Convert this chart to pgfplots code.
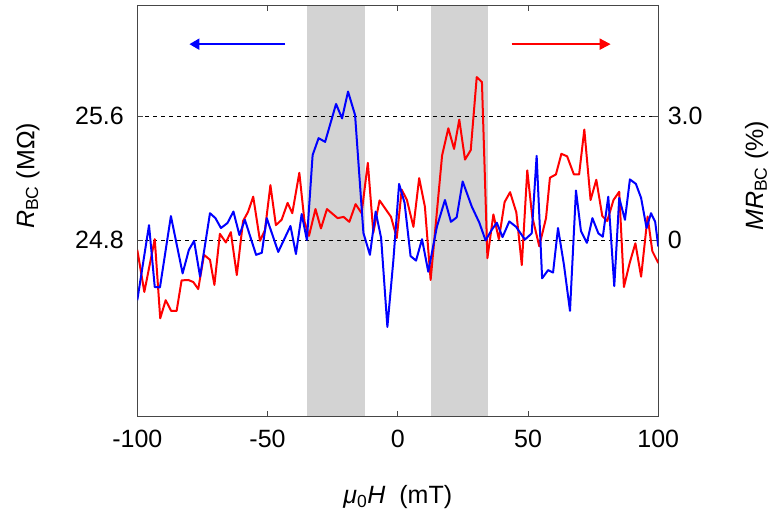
\documentclass[border=0pt]{standalone}
\usepackage{pgfplots}
\pgfplotsset{compat=1.18}
\usepackage{fontspec}
\setmainfont{Liberation Sans}
\usetikzlibrary{arrows.meta}
\definecolor{band}{RGB}{211,211,211}
\definecolor{axgray}{RGB}{70,70,70}
\begin{document}
\begin{tikzpicture}
\path[use as bounding box] (-137.3pt,-94.3pt) rectangle (634.7pt,416.7pt);
\begin{axis}[at={(0,0)}, anchor=south west, scale only axis,
  width=521pt, height=411.7pt,
  xmin=-100, xmax=100, ymin=23.657, ymax=26.320,
  xtick={-100,-50,0,50,100}, xticklabels={-100,-50,0,50,100},
  ytick={24.8,25.6}, yticklabels={24.8,25.6},
  tick align=inside, major tick length=6pt,
  xtick pos=both, ytick pos=left,
  axis line style={axgray, line width=0.9pt},
  major tick style={axgray, line width=0.9pt},
  font=\fontsize{25}{30}\selectfont,
  xticklabel style={yshift=-10pt},
  yticklabel style={xshift=-10pt},
  axis on top, clip=false,
]
\fill[band] (axis cs:-35,23.657) rectangle (axis cs:-12.6,26.32);
\fill[band] (axis cs:12.6,23.657) rectangle (axis cs:34.6,26.32);
\draw[black, line width=0.9pt, dash pattern=on 4pt off 4pt] (axis cs:-100,24.8) -- (axis cs:99,24.8);
\draw[black, line width=0.9pt, dash pattern=on 4pt off 4pt] (axis cs:-100,25.6) -- (axis cs:99,25.6);
\node[rotate=90, font=\fontsize{25}{30}\selectfont] at (axis description cs:-0.21,0.585)
  {\textit{R}\textsubscript{BC} (MΩ)};
\node[rotate=90, font=\fontsize{25}{30}\selectfont] at (axis description cs:1.189,0.585)
  {\textit{MR}\textsubscript{BC} (\%)};
\node[font=\fontsize{25}{30}\selectfont, anchor=base, inner sep=0pt] at (axis description cs:0.5,-0.212)
  {\textit{μ}\textsubscript{0}\textit{H}\ \ (mT)};
\end{axis}
\begin{axis}[at={(0,0)}, anchor=south west, scale only axis,
  width=521pt, height=411.7pt,
  xmin=-100, xmax=100, ymin=-4.286, ymax=5.700,
  axis x line=none, axis y line*=right,
  ytick={0,3}, yticklabels={0,3.0},
  tick align=inside, major tick length=6pt,
  axis line style={axgray, line width=0.9pt},
  major tick style={axgray, line width=0.9pt},
  font=\fontsize{25}{30}\selectfont,
  yticklabel style={xshift=6pt},
]
\addplot[red, line width=2pt, line join=round] coordinates {
(-100,-0.24) (-97.3,-1.26) (-93.3,0.02) (-91.2,-1.90) (-89.1,-1.46) (-87.0,-1.72)
(-84.9,-1.72) (-83.0,-0.98) (-80.4,-0.97) (-78.5,-1.02) (-76.6,-1.19) (-74.4,-0.36)
(-72.1,-0.48) (-70.4,-1.09) (-68.3,0.15) (-66.0,-0.06) (-64.1,0.19) (-61.8,-0.85)
(-59.4,0.46) (-57.5,0.68) (-55.5,1.05) (-52.9,-0.02) (-51.0,0.24) (-48.9,1.33)
(-46.8,0.36) (-44.6,0.49) (-42.3,0.90) (-40.5,0.65) (-37.8,1.63) (-35.8,0.44)
(-34.1,0.10) (-31.6,0.75) (-29.5,0.28) (-27.2,0.75) (-23.1,0.53) (-20.8,0.56)
(-18.6,0.44) (-16.2,0.87) (-13.9,0.65) (-11.5,1.87) (-9.4,0.18) (-7.0,0.96)
(-2.6,0.56) (-0.4,0.05) (1.5,1.22) (3.5,0.97) (6.0,0.32) (8.2,1.50) (10.4,0.81)
(12.6,-0.97) (17.0,2.05) (19.4,2.71) (21.6,2.21) (23.6,2.92) (25.8,1.95) (28.0,2.18)
(30.3,3.95) (32.3,3.83) (34.4,-0.44) (36.7,0.62) (38.8,0.02) (41.0,0.92) (43.1,1.16)
(45.5,0.67) (47.6,-0.61) (49.7,1.69) (51.6,0.57) (54.3,-0.15) (56.9,0.53) (58.4,1.51)
(60.7,1.59) (62.8,2.09) (65.0,2.03) (67.6,1.59) (69.6,1.59) (71.6,2.68) (74.0,0.97)
(76.2,1.46) (78.5,0.58) (80.4,0.46) (82.8,0.97) (85.0,1.17) (86.8,-1.14) (89.0,-0.56)
(91.2,-0.08) (93.4,-0.89) (95.9,0.57) (97.7,-0.27) (100,-0.56)
};
\addplot[blue, line width=2pt, line join=round] coordinates {
(-100,-1.46) (-95.5,0.36) (-93.3,-1.14) (-91.3,-1.15) (-87.1,0.58) (-82.6,-0.81)
(-80.2,-0.24) (-78.2,-0.02) (-75.9,-0.89) (-72.1,0.65) (-70.0,0.53) (-67.9,0.29)
(-65.4,0.41) (-63.1,0.69) (-60.8,0.12) (-58.7,0.49) (-54.4,-0.36) (-52.2,-0.31)
(-50.3,0.53) (-45.9,-0.29) (-41.2,0.34) (-39.1,-0.34) (-36.9,0.63) (-34.9,0.00)
(-32.7,2.06) (-30.4,2.47) (-27.9,2.38) (-23.7,3.30) (-21.4,2.95) (-19.1,3.60)
(-16.4,3.03) (-13.2,0.17) (-10.7,-0.36) (-8.5,0.69) (-6.4,0.05) (-4.0,-2.11)
(-1.7,-0.49) (0.5,1.36) (2.6,0.90) (4.9,-0.39) (7.0,-0.50) (9.3,0.02) (11.7,-0.77)
(15.0,0.32) (18.1,0.97) (20.4,0.44) (22.6,0.55) (24.9,1.42) (28.4,0.81) (31.3,0.42)
(33.7,-0.01) (36.0,0.24) (38.0,0.42) (40.2,0.07) (42.8,0.45) (45.4,0.32) (48.8,0.01)
(51.4,0.16) (53.3,2.04) (55.4,-0.93) (57.7,-0.73) (59.6,-0.79) (61.5,0.29) (63.8,-0.61)
(66.1,-1.72) (68.4,1.20) (70.3,0.22) (72.6,-0.07) (74.7,0.53) (77.0,0.16) (78.7,0.08)
(80.8,1.05) (83.1,-1.12) (85.0,1.02) (87.2,0.49) (89.1,1.47) (91.4,1.36) (93.4,1.02)
(95.5,0.29) (97.2,0.65) (98.8,0.44) (100,-0.16)
};
\draw[blue, line width=2pt, -{Triangle[length=10pt, width=11pt]}] (axis cs:-43.3,4.75) -- (axis cs:-80,4.75);
\draw[red, line width=2pt, -{Triangle[length=11pt, width=11pt]}] (axis cs:43.7,4.75) -- (axis cs:81.7,4.75);
\end{axis}
\end{tikzpicture}
\end{document}
